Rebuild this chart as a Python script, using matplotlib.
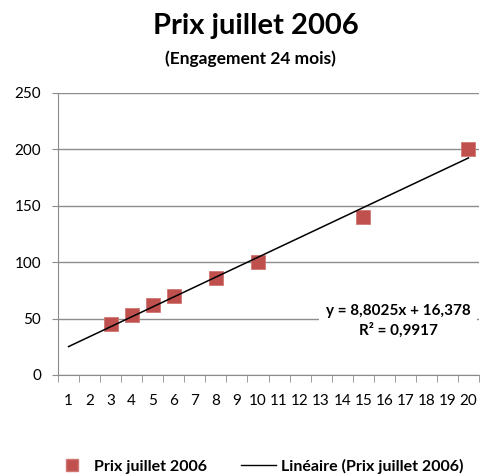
import numpy as np
import matplotlib
matplotlib.use('Agg')
import matplotlib.pyplot as plt
from matplotlib.lines import Line2D

# values
engagement = [3, 4, 5, 6, 8, 10, 15, 20]
prix = [45, 53, 62, 70, 86, 100, 140, 200]
x_labels = [str(i) for i in range(1, 21)]
y_ticks = [0, 50, 100, 150, 200, 250]

# trendline as printed on the chart
slope = 8.8025
intercept = 16.378
r2 = 0.9917

red = '#C0504D'
grid = '#8C8C8C'

plt.rcParams['font.family'] = ['Lato', 'DejaVu Sans']

fig = plt.figure(figsize=(4.81, 4.76), dpi=100)
ax = fig.add_axes([58 / 481, 1 - 375 / 476, 421 / 481, 282 / 476])

ax.set_xlim(0.5, 20.5)
ax.set_ylim(0, 250)

ax.plot(engagement, prix, 's', color=red, markersize=9.5,
        markeredgecolor='#D07875', markeredgewidth=0.6, zorder=3)

xs = np.array([1, 20])
ax.plot(xs, slope * xs + intercept, color='black', linewidth=1.1, zorder=4)

eq = 'y = {}x + {}\nR² = {}'.format(str(slope).replace('.', ','),
                                    str(intercept).replace('.', ','),
                                    str(r2).replace('.', ','))
ax.text(398 / 481, 1 - 321 / 476, eq, transform=fig.transFigure,
        ha='center', va='center', fontsize=11, fontweight='bold',
        linespacing=1.35,
        bbox=dict(facecolor='white', edgecolor='none', pad=5), zorder=5)

ax.set_yticks(y_ticks)
ax.yaxis.grid(True, color=grid, linewidth=1)
ax.set_axisbelow(True)
ax.tick_params(axis='y', length=4, color=grid, pad=8, labelsize=11)

ax.set_xticks(range(1, 21))
ax.set_xticklabels(x_labels)
ax.set_xticks(np.arange(0.5, 21, 1), minor=True)
ax.tick_params(axis='x', which='major', length=0, pad=14, labelsize=11)
ax.tick_params(axis='x', which='minor', length=5, color=grid)

for side in ['top', 'right']:
    ax.spines[side].set_visible(False)
for side in ['left', 'bottom']:
    ax.spines[side].set_color(grid)

fig.text(256 / 481, 1 - 26 / 476, 'Prix juillet 2006', ha='center', va='center',
         fontsize=21, fontweight='bold')
fig.text(250 / 481, 1 - 59 / 476, '(Engagement 24 mois)', ha='center', va='center',
         fontsize=12.5, fontweight='bold')

handles = [Line2D([], [], marker='s', linestyle='none', color=red, markersize=9,
                  markeredgecolor='#D07875'),
           Line2D([], [], color='black', linewidth=1)]
fig.legend(handles, ['Prix juillet 2006', 'Linéaire (Prix juillet 2006)'],
           loc='center', bbox_to_anchor=(259 / 481, 1 - 466 / 476), ncol=2,
           frameon=False, prop={'weight': 'bold', 'size': 11.5},
           handlelength=2.2, columnspacing=2.1, handletextpad=0.3)

fig.savefig('out.png', dpi=100)
